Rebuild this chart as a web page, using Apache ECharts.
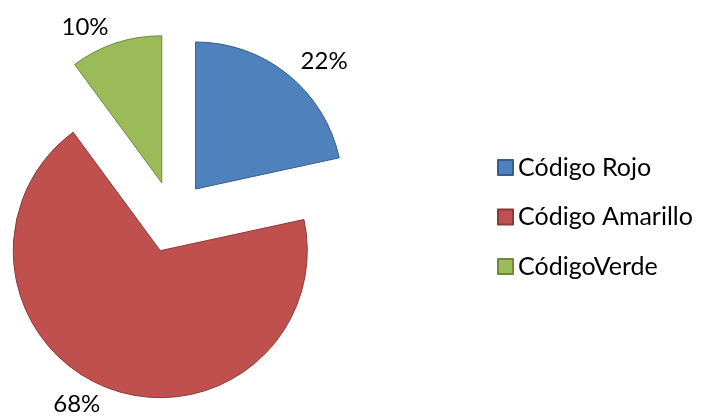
<!DOCTYPE html>
<html>
<head>
  <meta charset="UTF-8">
  <title>Códigos</title>
  <script src="https://cdn.jsdelivr.net/npm/echarts@6/dist/echarts.min.js"></script>
  <style>
    html, body { margin: 0; padding: 0; background: #fff; }
    #main { width: 703px; height: 417px; }
  </style>
</head>
<body>
<div id="main"></div>
<script>
  // datos
  var categorias = ['Código Rojo', 'Código Amarillo', 'CódigoVerde'];
  var valores = [21.6, 68.3, 10.1];
  var colores = ['#4F81BD', '#C0504D', '#9BBB59'];
  var bordes = ['#385D8A', '#8C3836', '#71893F'];

  var datos = categorias.map(function (c, i) {
    return {
      name: c,
      value: valores[i],
      selected: true,
      itemStyle: { color: colores[i], borderColor: bordes[i], borderWidth: 1 }
    };
  });

  var option = {
    animation: false,
    backgroundColor: '#fff',
    legend: {
      orient: 'vertical',
      left: 492,
      top: 150,
      itemWidth: 15,
      itemHeight: 15,
      itemGap: 24.5,
      icon: 'rect',
      data: categorias,
      textStyle: { fontFamily: 'Lato', fontSize: 25, color: '#000' }
    },
    series: [{
      type: 'pie',
      center: [173, 217],
      radius: 147,
      startAngle: 90,
      clockwise: true,
      selectedMode: 'multiple',
      selectedOffset: 36,
      avoidLabelOverlap: false,
      emphasis: { scale: false },
      label: {
        position: 'outside',
        fontFamily: 'Lato',
        fontSize: 24,
        color: '#000',
        distanceToLabelLine: 2,
        formatter: function (p) { return Math.round(p.percent) + '%'; }
      },
      labelLine: { show: false, length: 17, length2: 0 },
      data: datos
    }]
  };
  echarts.init(document.getElementById('main')).setOption(option);
</script>
</body>
</html>
